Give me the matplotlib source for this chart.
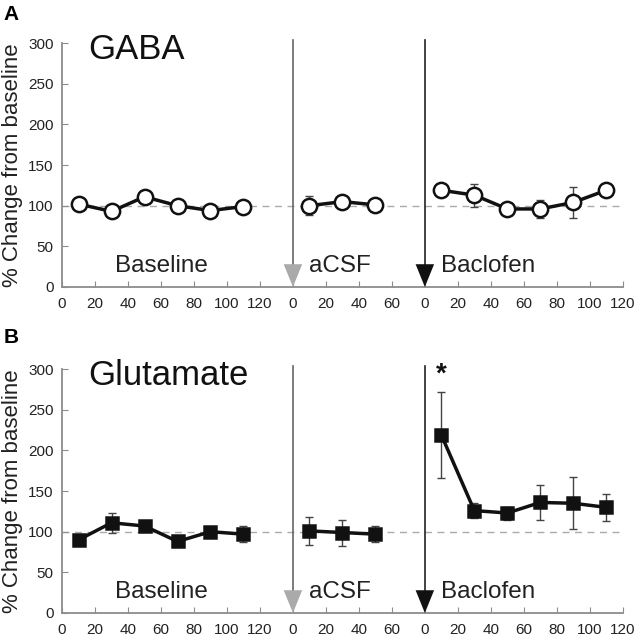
import matplotlib
matplotlib.use('Agg')
import matplotlib.pyplot as plt
import numpy as np

plt.rcParams['font.family'] = ['Liberation Sans', 'DejaVu Sans']

# time points (min) within each phase
base_t = [10, 30, 50, 70, 90, 110]
acsf_t = [10, 30, 50]
bac_t = [10, 30, 50, 70, 90, 110]

# GABA (% change from baseline) and SEM
gaba_base = [102, 93, 111, 100, 94, 99]
gaba_base_err = [3, 3, 6, 3, 3, 3]
gaba_acsf = [100, 105, 101]
gaba_acsf_err = [12, 4, 2]
gaba_bac = [119, 113, 96, 96, 104, 119]
gaba_bac_err = [8, 14, 3, 11, 19, 5]

# Glutamate
glu_base = [90, 111, 107, 88, 100, 97]
glu_base_err = [6, 12, 5, 2, 6, 10]
glu_acsf = [101, 99, 97]
glu_acsf_err = [17, 16, 10]
glu_bac = [219, 126, 123, 136, 135, 130]
glu_bac_err = [53, 9, 8, 21, 32, 17]

tick_labels = ['0', '20', '40', '60', '80', '100', '120',
               '0', '20', '40', '60',
               '0', '20', '40', '60', '80', '100', '120']

# offset (in 20-min tick units) of each phase on the shared axis
off_base, off_acsf, off_bac = 0, 7, 11


def pos(t, off):
    return [off + v / 20.0 for v in t]


fig = plt.figure(figsize=(6.4, 6.4), dpi=100)
axA = fig.add_axes([0.097, 0.5516, 0.876, 0.381])
axB = fig.add_axes([0.097, 0.0422, 0.876, 0.381])

spine_c = '#8c8c8c'
txt_c = '#222222'


def draw_panel(ax, base, base_e, acsf, acsf_e, bac, bac_e, marker, title, ms, mfc):
    ax.set_xlim(0, 17)
    ax.set_ylim(0, 300)
    ax.axhline(100, color='#aaaaaa', ls=(0, (5, 4)), lw=1, zorder=1)
    for t, y, e, off in [(base_t, base, base_e, off_base),
                         (acsf_t, acsf, acsf_e, off_acsf),
                         (bac_t, bac, bac_e, off_bac)]:
        x = pos(t, off)
        ax.errorbar(x, y, yerr=e, fmt='none', ecolor='#444444', elinewidth=1,
                    capsize=3, capthick=1, zorder=2)
        ax.plot(x, y, '-', color='#111111', lw=2.5, marker=marker, ms=ms,
                mfc=mfc, mec='#111111', mew=1.8, zorder=3)

    # injection lines with arrowheads
    for off, lc, hc in [(off_acsf, '#666666', '#aaaaaa'), (off_bac, '#222222', '#111111')]:
        ax.plot([off, off], [27, 304], color=lc, lw=1.2, clip_on=False, zorder=2)
        ax.fill([off - 0.28, off + 0.28, off], [28, 28, 0], color=hc,
                clip_on=False, zorder=4, lw=0)

    ax.text(3.0, 18, 'Baseline', fontsize=17.5, ha='center', va='baseline', color=txt_c)
    ax.text(off_acsf + 0.5, 18, 'aCSF', fontsize=17.5, ha='left', va='baseline', color=txt_c)
    ax.text(off_bac + 0.5, 18, 'Baclofen', fontsize=17.5, ha='left', va='baseline', color=txt_c)
    ax.text(0.8, 280, title, fontsize=25, ha='left', va='baseline', color='#111111')

    ax.set_xticks(range(18))
    ax.set_xticklabels(tick_labels)
    ax.set_yticks(range(0, 301, 50))
    for s in ['top', 'right']:
        ax.spines[s].set_visible(False)
    for s in ['left', 'bottom']:
        ax.spines[s].set_color(spine_c)
        ax.spines[s].set_linewidth(1.3)
    ax.tick_params(direction='in', length=4, color=spine_c, labelsize=11,
                   labelcolor=txt_c)
    ax.tick_params(axis='x', pad=7)
    ax.tick_params(axis='y', pad=6)
    ax.set_ylabel('% Change from baseline', fontsize=16, color=txt_c, labelpad=4)


draw_panel(axA, gaba_base, gaba_base_err, gaba_acsf, gaba_acsf_err,
           gaba_bac, gaba_bac_err, 'o', 'GABA', 11, 'white')
draw_panel(axB, glu_base, glu_base_err, glu_acsf, glu_acsf_err,
           glu_bac, glu_bac_err, 's', 'Glutamate', 8.5, '#111111')

# significance marker
axB.text(pos(bac_t, off_bac)[0], glu_bac[0] + glu_bac_err[0] + 5, '*',
         fontsize=20, ha='center', va='bottom', color='#111111', fontweight='bold')

fig.text(0.005, 0.978, 'A', fontsize=15, fontweight='bold', va='center')
fig.text(0.005, 0.472, 'B', fontsize=15, fontweight='bold', va='center')

fig.savefig('out.png', dpi=100)
